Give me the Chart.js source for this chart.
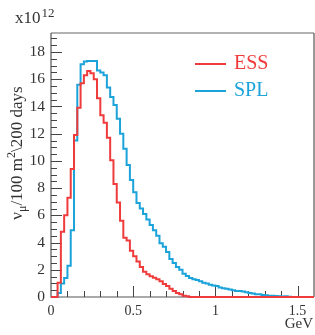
<!DOCTYPE html>
<html>
<head>
<meta charset="utf-8">
<script src="https://cdn.jsdelivr.net/npm/chart.js@4.4.1/dist/chart.umd.min.js"></script>
<style>
  html, body { margin: 0; padding: 0; background: #fff; }
  #wrap { width: 315px; height: 335px; }
</style>
</head>
<body>
<div id="wrap"><canvas id="myChart" width="315" height="335"></canvas></div>
<script>
// histogram bins of 0.02 GeV, values in units of 10^12
const binWidth = 0.02
const ess = [
  0, 0, 1.05, 4.8, 6.0, 7.3, 9.4, 11.9, 13.9, 15.7,
  16.3, 16.6, 16.45, 16.0, 14.6, 13.35, 12.8, 11.7, 10.05, 8.3,
  6.95, 5.6, 4.35, 4.15, 3.4, 3.0, 2.6, 2.2, 1.85, 1.68,
  1.52, 1.42, 1.3, 1.15, 0.95, 0.8, 0.6, 0.45, 0.3, 0.2,
  0.1, 0.05, 0, 0, 0, 0, 0, 0, 0, 0,
  0, 0, 0, 0, 0, 0, 0, 0, 0, 0,
  0, 0, 0, 0, 0, 0, 0, 0, 0, 0,
  0, 0, 0, 0, 0, 0, 0, 0, 0, 0,
]
const spl = [
  0, 0, 0.3, 1.0, 1.4, 2.3, 4.9, 11.5, 15.6, 17.1,
  17.3, 17.35, 17.35, 17.35, 16.65, 16.5, 16.3, 15.4, 14.7, 14.1,
  13.1, 12.0, 10.9, 9.7, 8.6, 7.7, 6.9, 6.5, 6.1, 5.7,
  5.3, 4.9, 4.5, 3.95, 3.7, 3.3, 2.8, 2.5, 2.2, 2.0,
  1.7, 1.55, 1.4, 1.3, 1.25, 1.15, 1.05, 1.0, 0.9, 0.85,
  0.8, 0.7, 0.65, 0.6, 0.55, 0.5, 0.45, 0.45, 0.4, 0.35,
  0.3, 0.25, 0.2, 0.2, 0.15, 0.12, 0.1, 0.1, 0.08, 0.06,
  0.04, 0.05, 0.02, 0, 0, 0, 0, 0, 0, 0,
]
const xTicks = [0, 0.5, 1, 1.5]
const yTicks = [0, 2, 4, 6, 8, 10, 12, 14, 16, 18]

const RED = '#ef3b3b'
const BLUE = '#1ba3da'
const SERIF = "'Liberation Serif', 'DejaVu Serif', serif"

// left edge of each bin, plus closing point at the last edge
function toSteps(values) {
  const pts = values.map((v, i) => ({ x: i * binWidth, y: v }))
  pts.push({ x: values.length * binWidth, y: values[values.length - 1] })
  return pts
}

// frame, inward ticks, axis titles, legend
const decor = {
  id: 'decor',
  beforeDatasetsDraw(chart) {
    const { ctx, chartArea: a, scales } = chart
    const x = scales.x, y = scales.y
    ctx.save()
    // frame
    ctx.lineWidth = 1.5
    ctx.strokeStyle = '#999'
    ctx.beginPath(); ctx.moveTo(a.left, a.top); ctx.lineTo(a.right, a.top); ctx.stroke()
    ctx.strokeStyle = '#555'
    ctx.lineWidth = 1.2
    ctx.beginPath(); ctx.moveTo(a.right, a.top); ctx.lineTo(a.right, a.bottom); ctx.stroke()
    ctx.beginPath(); ctx.moveTo(a.left, a.top); ctx.lineTo(a.left, a.bottom); ctx.lineTo(a.right, a.bottom); ctx.stroke()
    // x ticks every 0.1, major every 0.5
    ctx.lineWidth = 1
    ctx.strokeStyle = '#444'
    for (let i = 1; i <= 15; i++) {
      const px = Math.round(x.getPixelForValue(i * 0.1)) + 0.5
      const len = i % 5 === 0 ? 11 : 6
      ctx.beginPath(); ctx.moveTo(px, a.bottom); ctx.lineTo(px, a.bottom - len); ctx.stroke()
    }
    // y ticks every 0.5, major every 2
    for (let i = 1; i <= 38; i++) {
      const v = i * 0.5
      if (v > y.max) break
      const py = Math.round(y.getPixelForValue(v)) + 0.5
      const len = i % 4 === 0 ? 11 : 6
      ctx.beginPath(); ctx.moveTo(a.left, py); ctx.lineTo(a.left + len, py); ctx.stroke()
    }
    ctx.restore()
  },
  afterDraw(chart) {
    const { ctx, chartArea: a } = chart
    ctx.save()
    ctx.textBaseline = 'alphabetic'
    ctx.textAlign = 'left'
    ctx.fillStyle = '#333'
    // exponent label
    ctx.font = '17px ' + SERIF
    ctx.fillText('x10', 15, 23)
    const w = ctx.measureText('x10').width
    ctx.font = '13px ' + SERIF
    ctx.fillText('12', 15 + w + 1, 17)

    // y title, rotated
    const parts = [
      ['\u03bd', 17, 0],
      ['\u03bc', 12, 4],
      ['/100 m', 17, 0],
      ['2', 12, -7],
      ['\\200 days', 17, 0],
    ]
    let total = 0
    parts.forEach(p => { ctx.font = p[1] + 'px ' + SERIF; p.push(ctx.measureText(p[0]).width); total += p[3] })
    ctx.translate(22, 153)
    ctx.rotate(-Math.PI / 2)
    let cx = -total / 2
    parts.forEach(p => {
      ctx.font = p[1] + 'px ' + SERIF
      ctx.fillText(p[0], cx, p[2])
      cx += p[3]
    })
    ctx.setTransform(1, 0, 0, 1, 0, 0)

    // x unit
    ctx.font = '15px ' + SERIF
    ctx.textAlign = 'right'
    ctx.fillText('GeV', 313, 328)

    // legend
    ctx.textAlign = 'left'
    ctx.font = '20px ' + SERIF
    chart.data.datasets.forEach((ds, i) => {
      const ly = 64 + i * 27
      ctx.strokeStyle = ds.borderColor
      ctx.lineWidth = 2
      ctx.beginPath(); ctx.moveTo(195, ly); ctx.lineTo(226, ly); ctx.stroke()
      ctx.fillStyle = ds.borderColor
      ctx.fillText(ds.label, 234, ly + 5)
    })
    ctx.restore()
  },
}

const config = {
  type: 'line',
  data: {
    datasets: [
      {
        label: 'ESS',
        data: toSteps(ess),
        borderColor: RED,
        borderWidth: 2,
        stepped: 'before',
        pointRadius: 0,
        fill: false,
        clip: 3,
      },
      {
        label: 'SPL',
        data: toSteps(spl),
        borderColor: BLUE,
        borderWidth: 2,
        stepped: 'before',
        pointRadius: 0,
        fill: false,
        clip: 3,
      },
    ],
  },
  options: {
    responsive: false,
    animation: false,
    layout: { padding: { top: 33, right: 1, left: 0, bottom: 0 } },
    plugins: {
      legend: { display: false },
      tooltip: { enabled: false },
    },
    scales: {
      x: {
        type: 'linear',
        min: 0,
        max: 1.6,
        grid: { display: false, drawTicks: false },
        border: { display: false },
        afterBuildTicks: (s) => { s.ticks = xTicks.map(v => ({ value: v })) },
        afterFit: (s) => { s.height = 38 },
        ticks: {
          padding: 6,
          color: '#333',
          font: { family: SERIF, size: 14 },
          callback: (v) => String(v),
        },
      },
      y: {
        min: 0,
        max: 19.4,
        grid: { display: false, drawTicks: false },
        border: { display: false },
        afterBuildTicks: (s) => { s.ticks = yTicks.map(v => ({ value: v })) },
        afterFit: (s) => { s.width = 51 },
        ticks: {
          padding: 6,
          color: '#333',
          font: { family: SERIF, size: 15.5 },
          callback: (v) => String(v),
        },
      },
    },
  },
  plugins: [decor],
}

var myChart = new Chart(document.getElementById('myChart'), config)
</script>
</body>
</html>
